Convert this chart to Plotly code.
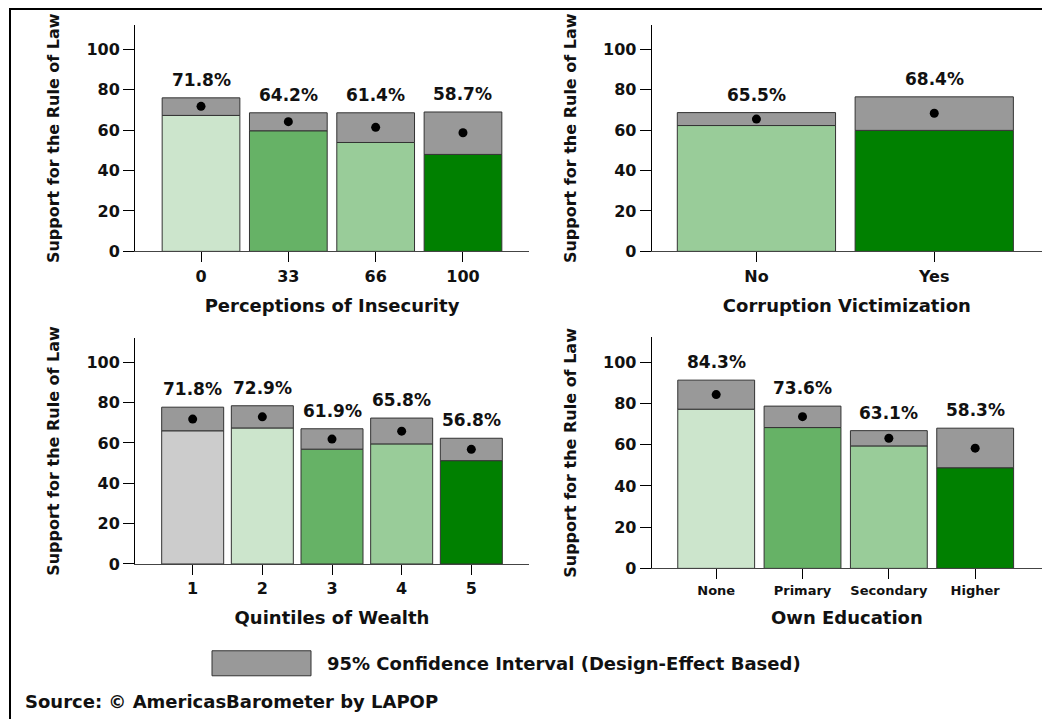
import plotly.graph_objects as go

FONT = "DejaVu Sans"

# ---------------- data ----------------
insec_cats = ["0", "33", "66", "100"]
insec_mean = [71.8, 64.2, 61.4, 58.7]
insec_low = [67.3, 59.7, 53.9, 48.0]
insec_high = [76.0, 68.6, 68.6, 69.0]
insec_colors = ["#cce5cc", "#66b266", "#99cc99", "#008000"]

corr_cats = ["No", "Yes"]
corr_mean = [65.5, 68.4]
corr_low = [62.3, 59.9]
corr_high = [68.7, 76.5]
corr_colors = ["#99cc99", "#008000"]

wealth_cats = ["1", "2", "3", "4", "5"]
wealth_mean = [71.8, 72.9, 61.9, 65.8, 56.8]
wealth_low = [66.0, 67.4, 56.9, 59.5, 51.2]
wealth_high = [77.7, 78.4, 67.0, 72.3, 62.3]
wealth_colors = ["#cccccc", "#cce5cc", "#66b266", "#99cc99", "#008000"]

edu_cats = ["None", "Primary", "Secondary", "Higher"]
edu_mean = [84.3, 73.6, 63.1, 58.3]
edu_low = [77.2, 68.3, 59.4, 48.8]
edu_high = [91.3, 78.7, 66.8, 68.0]
edu_colors = ["#cce5cc", "#66b266", "#99cc99", "#008000"]

y_ticks = [0, 20, 40, 60, 80, 100]
y_title = "Support for the Rule of Law"
ci_label = "95% Confidence Interval (Design-Effect Based)"
source_label = "Source: © AmericasBarometer by LAPOP"

# ---------------- layout helpers ----------------
# The page body adds an 8px margin; the captured picture is also slightly
# compressed vertically, so reference pixel positions are converted here.
OFF = 8
VSCALE = 0.985
W, H = 1034, 714
CI_GRAY = "#999999"
EDGE = "#333333"


def px_x(p):
    return min(1.0, max(0.0, (p - OFF) / W))


def px_y(p):
    return min(1.0, max(0.0, 1 - (p / VSCALE - OFF) / H))


panels = [
    dict(s="", cats=insec_cats, mean=insec_mean, low=insec_low, high=insec_high,
         colors=insec_colors, title="Perceptions of Insecurity",
         xd=[135, 529], yd=[251, 25], xr=[-0.756, 3.756], tfs=16),
    dict(s="2", cats=corr_cats, mean=corr_mean, low=corr_low, high=corr_high,
         colors=corr_colors, title="Corruption Victimization",
         xd=[651.7, 1042], yd=[251, 25], xr=[-0.589, 1.606], tfs=16),
    dict(s="3", cats=wealth_cats, mean=wealth_mean, low=wealth_low, high=wealth_high,
         colors=wealth_colors, title="Quintiles of Wealth",
         xd=[135, 529], yd=[563.3, 337.5], xr=[-0.828, 4.828], tfs=16),
    dict(s="4", cats=edu_cats, mean=edu_mean, low=edu_low, high=edu_high,
         colors=edu_colors, title="Own Education",
         xd=[651.7, 1042], yd=[567.7, 337], xr=[-0.747, 3.774], tfs=13),
]

fig = go.Figure()
annotations = []
layout_axes = {}

for p in panels:
    s = p["s"]
    xs = list(range(len(p["cats"])))
    ci_size = [h - l for h, l in zip(p["high"], p["low"])]
    fig.add_trace(go.Bar(
        x=xs, y=p["low"], width=0.89,
        marker=dict(color=p["colors"], line=dict(color=EDGE, width=1)),
        xaxis="x" + s, yaxis="y" + s, hoverinfo="skip",
    ))
    fig.add_trace(go.Bar(
        x=xs, y=ci_size, base=p["low"], width=0.89,
        marker=dict(color=CI_GRAY, line=dict(color=EDGE, width=1)),
        xaxis="x" + s, yaxis="y" + s, name="95% CI",
    ))
    fig.add_trace(go.Scatter(
        x=xs, y=p["mean"], mode="markers",
        marker=dict(color="black", size=9),
        xaxis="x" + s, yaxis="y" + s,
    ))
    for xi, m, h in zip(xs, p["mean"], p["high"]):
        annotations.append(dict(
            x=xi, y=h, xref="x" + s, yref="y" + s, text=f"{m:.1f}%",
            showarrow=False, yanchor="middle", yshift=18,
            font=dict(family=FONT, size=17, color="#111111", weight="bold"),
        ))
    layout_axes["xaxis" + s] = dict(
        domain=[px_x(p["xd"][0]), px_x(p["xd"][1])], range=p["xr"],
        anchor="y" + s, tickvals=xs, ticktext=p["cats"],
        ticks="outside", ticklen=10, tickcolor="#000000", tickwidth=1,
        showline=True, linecolor="#444444", linewidth=1,
        showgrid=False, zeroline=False, fixedrange=True,
        tickfont=dict(family=FONT, size=p["tfs"], color="#111111", weight="bold"),
        title=dict(text=p["title"], standoff=14,
                   font=dict(family=FONT, size=18, color="#111111", weight="bold")),
    )
    layout_axes["yaxis" + s] = dict(
        domain=[px_y(p["yd"][0]), px_y(p["yd"][1])], range=[0, 112],
        anchor="x" + s, tickvals=y_ticks,
        ticks="outside", ticklen=11, tickcolor="#000000", tickwidth=1,
        showline=True, linecolor="#000000", linewidth=1,
        showgrid=False, zeroline=False, fixedrange=True,
        tickfont=dict(family=FONT, size=16, color="#111111", weight="bold"),
        title=dict(text=y_title, standoff=22,
                   font=dict(family=FONT, size=16, color="#111111", weight="bold")),
    )

# key and source
annotations.append(dict(
    x=px_x(325), y=px_y(663), xref="paper", yref="paper", text=ci_label,
    showarrow=False, xanchor="left", yanchor="middle",
    font=dict(family=FONT, size=18, color="#111111", weight="bold"),
))
annotations.append(dict(
    x=px_x(23), y=px_y(701), xref="paper", yref="paper", text=source_label,
    showarrow=False, xanchor="left", yanchor="middle",
    font=dict(family=FONT, size=18, color="#111111", weight="bold"),
))

shapes = [
    dict(type="rect", xref="paper", yref="paper",
         x0=px_x(212), x1=px_x(311), y0=px_y(675), y1=px_y(650),
         fillcolor=CI_GRAY, line=dict(color=EDGE, width=1)),
    dict(type="rect", xref="paper", yref="paper",
         x0=px_x(10), x1=1.05, y0=-0.05, y1=1 - 1.0 / H,
         fillcolor="rgba(0,0,0,0)", line=dict(color="black", width=2)),
]

fig.update_layout(
    width=W, height=H, margin=dict(l=0, r=0, t=0, b=0),
    barmode="overlay", showlegend=False,
    plot_bgcolor="white", paper_bgcolor="white",
    annotations=annotations, shapes=shapes,
    **layout_axes,
)

fig.write_html("out.html")
